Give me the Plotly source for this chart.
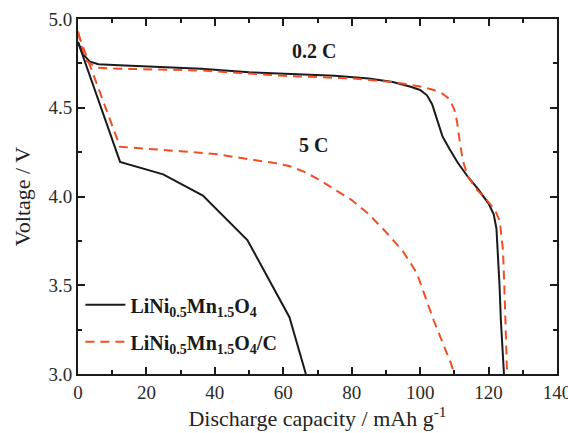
import plotly.graph_objects as go

# 0.2 C, LiNi0.5Mn1.5O4 (black)
bare_02_x = [0, 1.5, 3.5, 6, 12, 25, 36, 50, 62, 75, 85, 92, 97, 100, 102, 103.5, 105, 106.5, 108.5, 111, 114, 117, 120, 121.5, 122.3, 122.8, 123.2, 123.6, 124.0, 124.5]
bare_02_y = [4.87, 4.80, 4.76, 4.745, 4.74, 4.73, 4.72, 4.70, 4.69, 4.68, 4.665, 4.645, 4.62, 4.60, 4.57, 4.52, 4.43, 4.34, 4.27, 4.19, 4.11, 4.04, 3.96, 3.90, 3.82, 3.65, 3.50, 3.30, 3.15, 3.0]
# 0.2 C, LiNi0.5Mn1.5O4/C (red dashed)
coat_02_x = [0, 2, 5.5, 12, 36, 60, 80, 92, 100, 104, 106.5, 108.5, 110, 110.8, 111.5, 112.5, 114, 116.5, 119.5, 122, 123.3, 124.2, 124.6, 124.9, 125.4]
coat_02_y = [4.93, 4.77, 4.725, 4.72, 4.71, 4.68, 4.665, 4.645, 4.62, 4.60, 4.58, 4.55, 4.49, 4.42, 4.32, 4.20, 4.11, 4.04, 3.98, 3.92, 3.86, 3.70, 3.50, 3.30, 3.0]
# 5 C, LiNi0.5Mn1.5O4 (black)
bare_5_x = [0, 12.3, 24.9, 36.5, 49.5, 61.8, 66.6]
bare_5_y = [4.87, 4.195, 4.125, 4.005, 3.755, 3.32, 3.0]
# 5 C, LiNi0.5Mn1.5O4/C (red dashed)
coat_5_x = [0, 12.3, 30, 40, 50, 57, 62, 66, 70, 75, 80, 85, 90, 95, 99, 104, 109, 110]
coat_5_y = [4.92, 4.28, 4.255, 4.24, 4.21, 4.19, 4.17, 4.14, 4.10, 4.04, 3.98, 3.90, 3.80, 3.69, 3.57, 3.30, 3.06, 3.0]

legend_names = ["LiNi<sub>0.5</sub>Mn<sub>1.5</sub>O<sub>4</sub>",
                "LiNi<sub>0.5</sub>Mn<sub>1.5</sub>O<sub>4</sub>/C"]
rate_labels = ["0.2 C", "5 C"]
rate_label_x = [69.0, 68.8]
rate_label_y = [4.82, 4.29]

BLACK = "#1a1a1a"
RED = "#F04E23"
FONT = "Liberation Serif"

fig = go.Figure()
fig.add_trace(go.Scatter(x=bare_02_x, y=bare_02_y, mode="lines", name=legend_names[0],
                         line=dict(color=BLACK, width=2), legendgroup="a"))
fig.add_trace(go.Scatter(x=coat_02_x, y=coat_02_y, mode="lines", name=legend_names[1],
                         line=dict(color=RED, width=2, dash="9px,6px"), legendgroup="b"))
fig.add_trace(go.Scatter(x=bare_5_x, y=bare_5_y, mode="lines", showlegend=False,
                         line=dict(color=BLACK, width=2), legendgroup="a"))
fig.add_trace(go.Scatter(x=coat_5_x, y=coat_5_y, mode="lines", showlegend=False,
                         line=dict(color=RED, width=2, dash="9px,6px"), legendgroup="b"))

for t, x, y in zip(rate_labels, rate_label_x, rate_label_y):
    fig.add_annotation(x=x, y=y, text="<b>" + t + "</b>", showarrow=False,
                       font=dict(family=FONT, size=20, color=BLACK))

axis_common = dict(showline=True, linecolor=BLACK, linewidth=2, mirror="allticks",
                   ticks="inside", ticklen=7, tickwidth=1.5, tickcolor=BLACK,
                   showgrid=False, zeroline=False, automargin=False,
                   ticklabeloverflow="allow",
                   tickfont=dict(family=FONT, size=19, color="#2a2a2a"))

fig.update_xaxes(range=[0, 140], dtick=20, tick0=0,
                 minor=dict(dtick=10, ticks="inside", ticklen=4, tickwidth=1.5, tickcolor=BLACK),
                 title=dict(text="Discharge capacity / mAh g<sup>-1</sup>", standoff=8,
                            font=dict(family=FONT, size=22, color="#222")),
                 **axis_common)
fig.update_yaxes(range=[3.0, 5.0], dtick=0.5, tick0=3.0, tickformat=".1f",
                 minor=dict(dtick=0.25, ticks="inside", ticklen=4, tickwidth=1.5, tickcolor=BLACK),
                 title=dict(text="Voltage / V", standoff=12,
                            font=dict(family=FONT, size=22, color="#222")),
                 **axis_common)

fig.update_layout(
    width=568, height=433,
    margin=dict(l=78, r=11, t=19, b=59),
    paper_bgcolor="white", plot_bgcolor="white",
    legend=dict(x=0.005, y=0.25, xanchor="left", yanchor="top",
                bgcolor="rgba(0,0,0,0)", borderwidth=0,
                font=dict(family=FONT, size=20, color=BLACK, weight="bold"),
                itemwidth=40, tracegroupgap=8),
)

# remove the page's default body margin so the figure fills the window exactly
fig.write_html("out.html",
               config={"displayModeBar": False},
               post_script="document.body.style.margin='0';document.body.style.overflow='hidden';")
